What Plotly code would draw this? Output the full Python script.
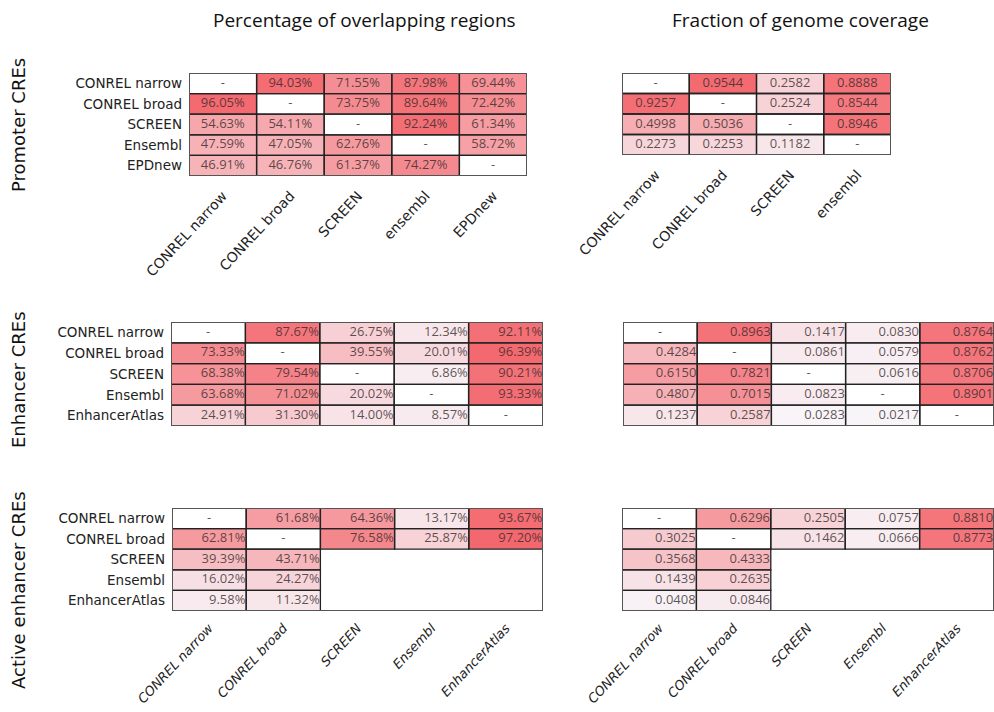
import plotly.graph_objects as go

W, H = 994, 712

# ---- data -------------------------------------------------------------
# "-" marks the diagonal (a set compared with itself), None marks a pair not computed.
promoter_rows = ["CONREL narrow", "CONREL broad", "SCREEN", "Ensembl", "EPDnew"]
promoter_cols = ["CONREL narrow", "CONREL broad", "SCREEN", "ensembl", "EPDnew"]
promoter_overlap = [
    ["-", 94.03, 71.55, 87.98, 69.44],
    [96.05, "-", 73.75, 89.64, 72.42],
    [54.63, 54.11, "-", 92.24, 61.34],
    [47.59, 47.05, 62.76, "-", 58.72],
    [46.91, 46.76, 61.37, 74.27, "-"],
]
promoter_cov_cols = ["CONREL narrow", "CONREL broad", "SCREEN", "ensembl"]
promoter_coverage = [
    ["-", 0.9544, 0.2582, 0.8888],
    [0.9257, "-", 0.2524, 0.8544],
    [0.4998, 0.5036, "-", 0.8946],
    [0.2273, 0.2253, 0.1182, "-"],
]

enhancer_rows = ["CONREL narrow", "CONREL broad", "SCREEN", "Ensembl", "EnhancerAtlas"]
enhancer_overlap = [
    ["-", 87.67, 26.75, 12.34, 92.11],
    [73.33, "-", 39.55, 20.01, 96.39],
    [68.38, 79.54, "-", 6.86, 90.21],
    [63.68, 71.02, 20.02, "-", 93.33],
    [24.91, 31.30, 14.00, 8.57, "-"],
]
enhancer_coverage = [
    ["-", 0.8963, 0.1417, 0.0830, 0.8764],
    [0.4284, "-", 0.0861, 0.0579, 0.8762],
    [0.6150, 0.7821, "-", 0.0616, 0.8706],
    [0.4807, 0.7015, 0.0823, "-", 0.8901],
    [0.1237, 0.2587, 0.0283, 0.0217, "-"],
]

active_rows = ["CONREL narrow", "CONREL broad", "SCREEN", "Ensembl", "EnhancerAtlas"]
active_overlap = [
    ["-", 61.68, 64.36, 13.17, 93.67],
    [62.81, "-", 76.58, 25.87, 97.20],
    [39.39, 43.71, None, None, None],
    [16.02, 24.27, None, None, None],
    [9.58, 11.32, None, None, None],
]
active_coverage = [
    ["-", 0.6296, 0.2505, 0.0757, 0.8810],
    [0.3025, "-", 0.1462, 0.0666, 0.8773],
    [0.3568, 0.4333, None, None, None],
    [0.1439, 0.2635, None, None, None],
    [0.0408, 0.0846, None, None, None],
]

col_titles = ["Percentage of overlapping regions", "Fraction of genome coverage"]
row_titles = ["Promoter CREs", "Enhancer CREs", "Active enhancer CREs"]

# ---- styling ----------------------------------------------------------
COLORSCALE = [[0.0, "#f8f8fc"], [1.0, "#f3646a"]]
LABEL_FONT = "DejaVu Sans, sans-serif"
CELL_FONT = "Open Sans, sans-serif"
TITLE_FONT = "Open Sans, sans-serif"
TEXT_COLOR = "rgba(50,40,40,0.78)"


def px_dom(a, b, total, flip=False):
    if flip:
        return [1 - b / total, 1 - a / total]
    return [a / total, b / total]


# panel spec: values, row labels, col labels, percent?, align, box(px), show y labels, x labels mode
panels = [
    dict(vals=promoter_overlap, rows=promoter_rows, cols=promoter_cols, pct=True,
         align="center", box=(189, 527, 73, 176), ylab=True, xlab="plain"),
    dict(vals=promoter_coverage, rows=promoter_rows[:4], cols=promoter_cov_cols, pct=False,
         align="center", box=(622, 891, 73, 155), ylab=False, xlab="plain"),
    dict(vals=enhancer_overlap, rows=enhancer_rows, cols=enhancer_rows, pct=True,
         align="right", box=(171, 543, 322, 426), ylab=True, xlab=None),
    dict(vals=enhancer_coverage, rows=enhancer_rows, cols=enhancer_rows, pct=False,
         align="right", box=(623, 994, 322, 426), ylab=False, xlab=None),
    dict(vals=active_overlap, rows=active_rows, cols=active_rows, pct=True,
         align="right", box=(172, 543, 508, 611), ylab=True, xlab="italic"),
    dict(vals=active_coverage, rows=active_rows, cols=active_rows, pct=False,
         align="right", box=(622, 994, 508, 611), ylab=False, xlab="italic"),
]

fig = go.Figure()
layout = {}
shapes = []

for k, p in enumerate(panels, start=1):
    xa = "x" if k == 1 else f"x{k}"
    ya = "y" if k == 1 else f"y{k}"
    vals = p["vals"]
    nr, nc = len(vals), len(vals[0])
    scale = 100.0 if p["pct"] else 1.0

    z = [[(v / scale if isinstance(v, (int, float)) else None) for v in row] for row in vals]
    fig.add_trace(go.Heatmap(
        z=z, x=list(range(nc)), y=list(range(nr)),
        colorscale=COLORSCALE, zmin=0, zmax=1, showscale=False,
        hoverinfo="skip", xaxis=xa, yaxis=ya,
    ))

    # cell labels
    tx, ty, tt, tpos = [], [], [], []
    for i, row in enumerate(vals):
        for j, v in enumerate(row):
            if v is None:
                continue
            if v == "-":
                tx.append(j); ty.append(i); tt.append("-"); tpos.append("middle center")
            else:
                label = f"{v:.2f}%" if p["pct"] else f"{v:.4f}"
                if p["align"] == "right":
                    tx.append(j + 0.49); tpos.append("middle left")
                else:
                    tx.append(j); tpos.append("middle center")
                ty.append(i); tt.append(label)
    fig.add_trace(go.Scatter(
        x=tx, y=ty, text=tt, mode="text", textposition=tpos,
        textfont=dict(family=CELL_FONT, size=13, color=TEXT_COLOR),
        hoverinfo="skip", showlegend=False, xaxis=xa, yaxis=ya, cliponaxis=False,
    ))

    # cell borders for every present cell, plus an outer frame
    for i, row in enumerate(vals):
        for j, v in enumerate(row):
            if v is None:
                continue
            shapes.append(dict(type="rect", xref=xa, yref=ya,
                               x0=j - 0.5, x1=j + 0.5, y0=i - 0.5, y1=i + 0.5,
                               line=dict(color="#222222", width=1.3), layer="above"))
    shapes.append(dict(type="rect", xref=xa, yref=ya,
                       x0=-0.5, x1=nc - 0.5, y0=-0.5, y1=nr - 0.5,
                       line=dict(color="#555555", width=2), layer="above"))

    x0, x1, y0, y1 = p["box"]
    if p["xlab"] == "italic":
        xtext = [f"<i>{c}</i>" for c in p["cols"]]
        xsize, xstand = 13, 6
    else:
        xtext = list(p["cols"])
        xsize, xstand = 14, 8
    layout[("xaxis" if k == 1 else f"xaxis{k}")] = dict(
        domain=px_dom(x0, x1, W), anchor=ya, range=[-0.5, nc - 0.5],
        tickvals=list(range(nc)), ticktext=xtext,
        showticklabels=p["xlab"] is not None, tickangle=-47,
        tickfont=dict(family=LABEL_FONT, size=xsize, color="#222222"),
        ticks="", ticklabelstandoff=xstand, automargin=False,
        showgrid=False, zeroline=False, showline=False, fixedrange=True,
    )
    layout[("yaxis" if k == 1 else f"yaxis{k}")] = dict(
        domain=px_dom(y0, y1, H, flip=True), anchor=xa, range=[nr - 0.5, -0.5],
        tickvals=list(range(nr)), ticktext=list(p["rows"]),
        showticklabels=p["ylab"],
        tickfont=dict(family=LABEL_FONT, size=13.5, color="#222222"),
        ticks="", ticklabelstandoff=6, automargin=False,
        showgrid=False, zeroline=False, showline=False, fixedrange=True,
    )

annotations = []
for title, cx in zip(col_titles, [364, 800]):
    annotations.append(dict(text=title, x=cx / W, y=1 - 20 / H, xref="paper", yref="paper",
                            xanchor="center", yanchor="middle", showarrow=False,
                            font=dict(family=TITLE_FONT, size=19, color="#111111")))
for title, cy in zip(row_titles, [125, 380, 590]):
    annotations.append(dict(text=title, x=18 / W, y=1 - cy / H, xref="paper", yref="paper",
                            xanchor="center", yanchor="middle", textangle=-90, showarrow=False,
                            font=dict(family=LABEL_FONT, size=18, color="#111111")))

fig.update_layout(
    width=W, height=H, margin=dict(l=0, r=0, t=0, b=0),
    paper_bgcolor="white", plot_bgcolor="white",
    showlegend=False, shapes=shapes, annotations=annotations,
    **layout,
)

fig.write_html("out.html")
